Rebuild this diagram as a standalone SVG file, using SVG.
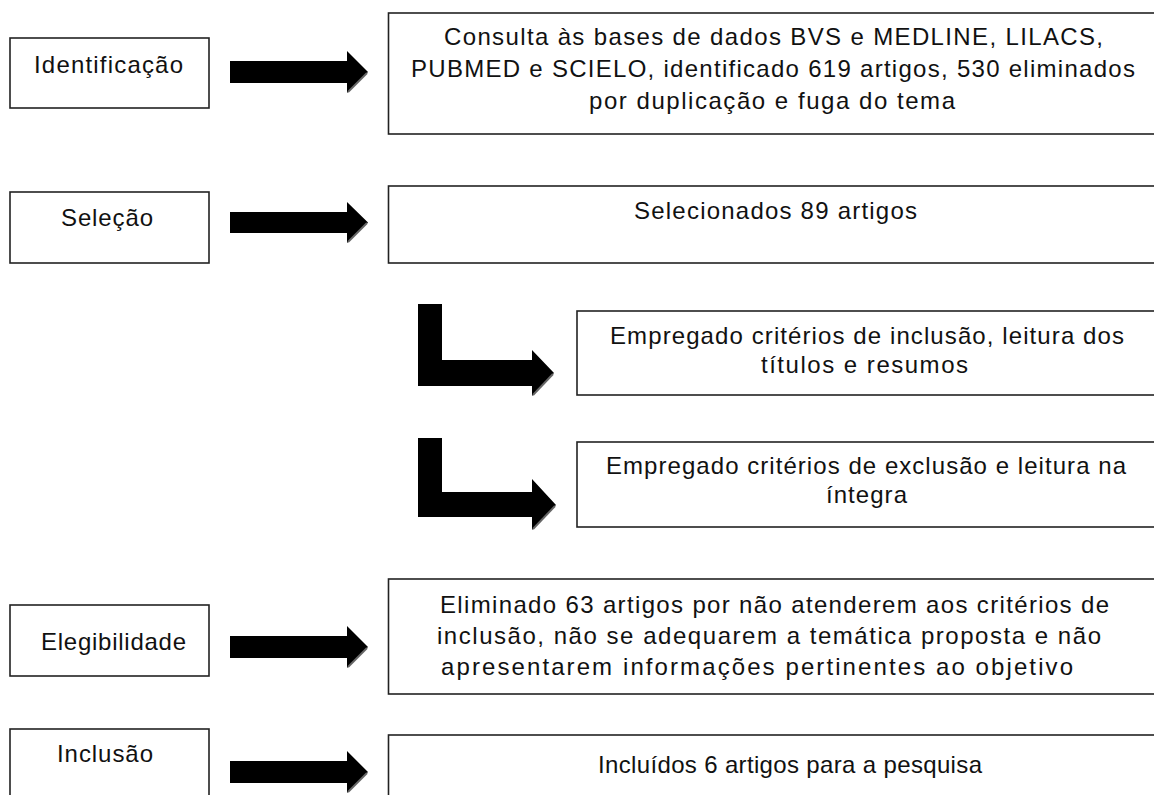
<svg xmlns="http://www.w3.org/2000/svg" width="1154" height="795" viewBox="0 0 1154 795">
<style>
.box{fill:#fff;stroke:#222;stroke-width:1.6}
.t{font-family:"Liberation Sans",Arial,sans-serif;font-size:24px;fill:#111}
.arr{fill:#000}
.sh{fill:none;stroke:#666;stroke-width:2}
</style>
<rect width="1154" height="795" fill="#fff"/>
<g id="connectors">
  <g id="a1"><path class="arr" d="M230,61 H347 V51 L368,72 L347,93 V83 H230 Z"/><path class="sh" d="M367,73 L348,92"/></g>
  <g id="a2"><path class="arr" d="M230,212 H347 V202 L368,222.5 L347,243 V233 H230 Z"/><path class="sh" d="M367,223 L348,242"/></g>
  <g id="a3"><path class="arr" d="M418,304 H442 V360 H532 V350 L554,373 L532,396 V386 H418 Z"/><path class="sh" d="M553,374 L533,395"/></g>
  <g id="a4"><path class="arr" d="M418,438 H442 V492 H532 V479 L556,505 L532,530 V517 H418 Z"/><path class="sh" d="M555,506 L533,529"/></g>
  <g id="a5"><path class="arr" d="M230,636 H347 V626 L368,647 L347,668 V658 H230 Z"/><path class="sh" d="M367,648 L348,667"/></g>
  <g id="a6"><path class="arr" d="M230,761 H347 V751 L368,772 L347,793 V783 H230 Z"/><path class="sh" d="M367,773 L348,792"/></g>
</g>
<g id="identificacao">
  <rect class="box" x="10" y="38" width="199" height="70"/>
  <text class="t" x="34" y="73" textLength="149" lengthAdjust="spacing">Identificação</text>
</g>
<g id="consulta">
  <rect class="box" x="388.5" y="13" width="780" height="121"/>
  <text class="t" x="444" y="45" textLength="659" lengthAdjust="spacing">Consulta às bases de dados BVS e MEDLINE, LILACS,</text>
  <text class="t" x="411" y="77" textLength="724" lengthAdjust="spacing">PUBMED e SCIELO, identificado 619 artigos, 530 eliminados</text>
  <text class="t" x="589" y="109" textLength="366" lengthAdjust="spacing">por duplicação e fuga do tema</text>
</g>
<g id="selecao">
  <rect class="box" x="10" y="192" width="199" height="71"/>
  <text class="t" x="61" y="226" textLength="92" lengthAdjust="spacing">Seleção</text>
</g>
<g id="selecionados">
  <rect class="box" x="388.5" y="186" width="780" height="77"/>
  <text class="t" x="634" y="219" textLength="283" lengthAdjust="spacing">Selecionados 89 artigos</text>
</g>
<g id="inclusao-criterios">
  <rect class="box" x="577" y="311" width="600" height="84"/>
  <text class="t" x="610" y="344" textLength="514" lengthAdjust="spacing">Empregado critérios de inclusão, leitura dos</text>
  <text class="t" x="761" y="373" textLength="207" lengthAdjust="spacing">títulos e resumos</text>
</g>
<g id="exclusao-criterios">
  <rect class="box" x="577" y="442" width="600" height="85"/>
  <text class="t" x="606" y="474" textLength="520" lengthAdjust="spacing">Empregado critérios de exclusão e leitura na</text>
  <text class="t" x="826" y="503" textLength="81" lengthAdjust="spacing">íntegra</text>
</g>
<g id="elegibilidade">
  <rect class="box" x="10" y="605" width="199" height="71"/>
  <text class="t" x="41" y="650" textLength="145" lengthAdjust="spacing">Elegibilidade</text>
</g>
<g id="eliminado">
  <rect class="box" x="388.5" y="579" width="780" height="115"/>
  <text class="t" x="440" y="613" textLength="669" lengthAdjust="spacing">Eliminado 63 artigos por não atenderem aos critérios de</text>
  <text class="t" x="437" y="644" textLength="664" lengthAdjust="spacing">inclusão, não se adequarem a temática proposta e não</text>
  <text class="t" x="441" y="675" textLength="632" lengthAdjust="spacing">apresentarem informações pertinentes ao objetivo</text>
</g>
<g id="inclusao">
  <rect class="box" x="10" y="729" width="199" height="90"/>
  <text class="t" x="57" y="762" textLength="96" lengthAdjust="spacing">Inclusão</text>
</g>
<g id="incluidos">
  <rect class="box" x="388.5" y="735" width="780" height="90"/>
  <text class="t" x="598" y="773" textLength="384" lengthAdjust="spacing">Incluídos 6 artigos para a pesquisa</text>
</g>
</svg>
